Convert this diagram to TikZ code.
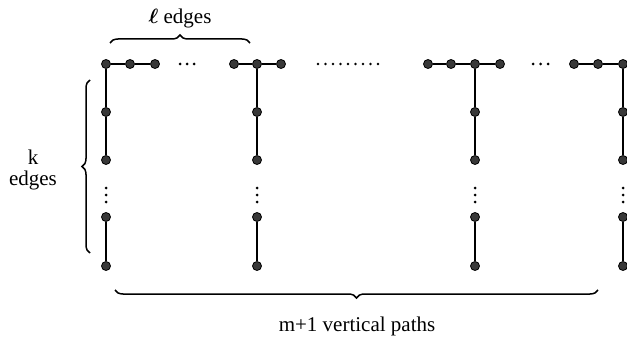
\documentclass[tikz,border=0pt]{standalone}
\usepackage{fontspec}
\usepackage{bm}
\setmainfont{Liberation Serif}
\usetikzlibrary{decorations.pathreplacing}
\begin{document}
\begin{tikzpicture}[x=1pt,y=-1pt,
  vtx/.style={circle,draw=black,fill=black!78,line width=0.8pt,inner sep=0pt,minimum size=9pt},
  edge/.style={line width=1.8pt},
  dot/.style={fill=black},
  bracefig/.style={decorate,decoration={brace,amplitude=8pt},line width=1.5pt},
  lbl/.style={font=\fontsize{21}{24}\selectfont,inner sep=0pt}]
\useasboundingbox (0,0) rectangle (627,337);

% vertical paths: columns of five vertices
\foreach \c/\x in {1/106,2/257,3/475,4/623}{
  \foreach \r/\y in {0/64,1/112,2/160,3/217,4/266}{
    \node[vtx] (v\c-\r) at (\x,\y) {};
  }
  \draw[edge] (v\c-0) -- (v\c-1) -- (v\c-2);
  \draw[edge] (v\c-3) -- (v\c-4);
  \foreach \y in {188,195,202}{ \fill[dot] (\x,\y) circle (1.5pt); }
}

% extra vertices of the horizontal path
\foreach \i/\x in {1/130,2/155,3/234,4/281,5/428,6/451,7/500,8/574,9/598}{
  \node[vtx] (h\i) at (\x,64) {};
}
\draw[edge] (v1-0) -- (h1) -- (h2);
\draw[edge] (h3) -- (v2-0) -- (h4);
\draw[edge] (h5) -- (h6) -- (v3-0) -- (h7);
\draw[edge] (h8) -- (h9) -- (v4-0);

% omitted parts of the horizontal path
\foreach \x in {180,187,194, 533,540.5,548}{ \fill[dot] (\x,64) circle (1.5pt); }
\foreach \i in {0,...,8}{ \fill[dot] (318+7.5*\i,64) circle (1.4pt); }

% braces
\coordinate (tb1) at (110,43); \coordinate (tb2) at (250,43);
\coordinate (lb1) at (90,253); \coordinate (lb2) at (90,80);
\coordinate (bb1) at (598,290); \coordinate (bb2) at (115,290);
\draw[bracefig] (tb1) -- (tb2);
\draw[bracefig] (lb1) -- (lb2);
\draw[bracefig] (bb1) -- (bb2);

% labels
\node[lbl,anchor=base] (ltop) at (180,24) {$\bm{\ell}$ edges};
\node[lbl,anchor=base] (lk) at (33,164) {k};
\node[lbl,anchor=base] (lke) at (33,185) {edges};
\node[lbl,anchor=base] (lbot) at (357,331) {m+1 vertical paths};
\end{tikzpicture}
\end{document}
